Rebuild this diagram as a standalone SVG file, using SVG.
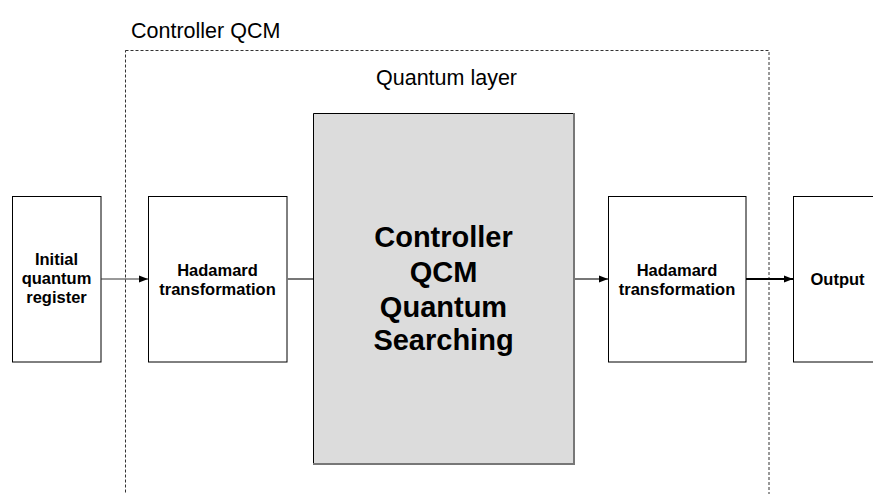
<svg xmlns="http://www.w3.org/2000/svg" width="873" height="494" viewBox="0 0 873 494">
<defs>
<style>
.lbl{font-family:"Liberation Sans",Arial,sans-serif;font-size:21.5px;fill:#000}
.bt{font-family:"Liberation Sans",Arial,sans-serif;font-weight:bold;font-size:16.5px;fill:#000;text-anchor:middle}
.big{font-family:"Liberation Sans",Arial,sans-serif;font-weight:bold;font-size:29px;fill:#000;text-anchor:middle}
.box{fill:#fff;stroke:#000;stroke-width:1}
</style>
<marker id="ah" viewBox="0 0 10 10" refX="10" refY="5" markerWidth="9" markerHeight="9" markerUnits="userSpaceOnUse" orient="auto">
<path d="M0,1 L10,5 L0,9 z" fill="#000"/>
</marker>
</defs>
<rect width="873" height="494" fill="#fff"/>
<g id="controller-qcm">
<rect x="125.5" y="50.5" width="643.5" height="460" fill="none" stroke="#333" stroke-width="1" stroke-dasharray="3,2"/>
<text class="lbl" x="131" y="38">Controller QCM</text>
</g>
<g id="quantum-layer-label">
<text class="lbl" x="376" y="85">Quantum layer</text>
</g>
<g id="initial">
<rect class="box" x="12.5" y="196.5" width="88.5" height="165.5" stroke="#333"/>
<text class="bt" x="56.5" y="265">Initial</text>
<text class="bt" x="56.5" y="284">quantum</text>
<text class="bt" x="56.5" y="303">register</text>
</g>
<g id="hadamard1">
<rect class="box" x="148.5" y="196.5" width="138.5" height="165.5"/>
<text class="bt" x="217.5" y="276">Hadamard</text>
<text class="bt" x="217.5" y="295">transformation</text>
</g>
<g id="search">
<rect x="313" y="113" width="261" height="352" fill="#dcdcdc"/>
<path d="M313.5,465 V113.5 H574" fill="none" stroke="#000" stroke-width="1"/>
<path d="M574,113 V464 H313" fill="none" stroke="#777" stroke-width="2"/>
<text class="big" x="443.5" y="247">Controller</text>
<text class="big" x="443.5" y="281.5">QCM</text>
<text class="big" x="443.5" y="316.5">Quantum</text>
<text class="big" x="443.5" y="350">Searching</text>
</g>
<g id="hadamard2">
<rect class="box" x="608.5" y="196.5" width="137.5" height="165.5"/>
<text class="bt" x="677" y="276">Hadamard</text>
<text class="bt" x="677" y="295">transformation</text>
</g>
<g id="output">
<rect class="box" x="793.5" y="196.5" width="89" height="165.5"/>
<text class="bt" x="837.5" y="285">Output</text>
</g>
<g id="connectors">
<line x1="101" y1="279" x2="148" y2="279" stroke="#333" stroke-width="1" marker-end="url(#ah)"/>
<line x1="287" y1="279" x2="313" y2="279" stroke="#777" stroke-width="2"/>
<line x1="575" y1="279" x2="608" y2="279" stroke="#777" stroke-width="2" marker-end="url(#ah)"/>
<line x1="746" y1="279" x2="793" y2="279" stroke="#000" stroke-width="2" marker-end="url(#ah)"/>
</g>
</svg>
